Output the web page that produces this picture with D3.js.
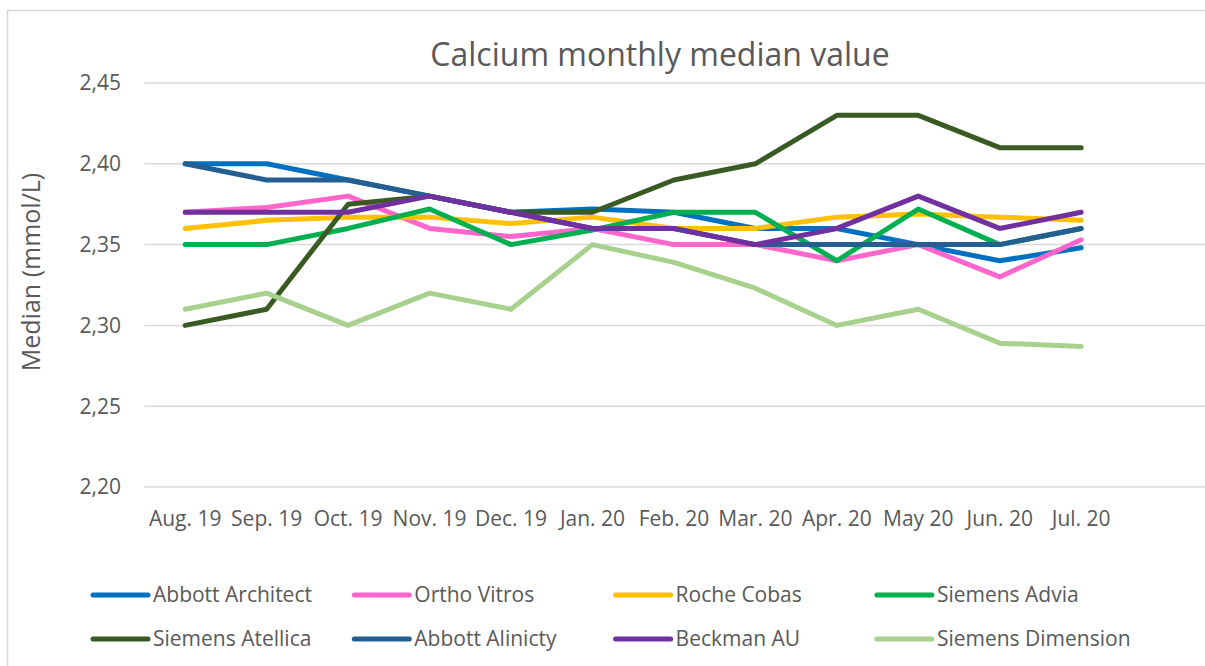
<!DOCTYPE html>
<html>
<head>
<meta charset="utf-8">
<script src="https://cdn.jsdelivr.net/npm/d3@7"></script>
<style>
  body { margin: 0; background: #fff; }
  svg { display: block; font-family: "Open Sans", sans-serif; }
</style>
</head>
<body>
<div id="chart"></div>
<script>
const months = ["Aug. 19", "Sep. 19", "Oct. 19", "Nov. 19", "Dec. 19", "Jan. 20",
  "Feb. 20", "Mar. 20", "Apr. 20", "May 20", "Jun. 20", "Jul. 20"];

const yTicks = [2.20, 2.25, 2.30, 2.35, 2.40, 2.45];

const abbottArchitect = [2.40, 2.40, 2.39, 2.38, 2.37, 2.372, 2.37, 2.36, 2.36, 2.35, 2.34, 2.348];
const orthoVitros = [2.37, 2.373, 2.38, 2.36, 2.355, 2.36, 2.35, 2.35, 2.34, 2.35, 2.33, 2.353];
const rocheCobas = [2.36, 2.365, 2.367, 2.367, 2.363, 2.367, 2.36, 2.36, 2.367, 2.369, 2.367, 2.365];
const siemensAdvia = [2.35, 2.35, 2.36, 2.372, 2.35, 2.359, 2.37, 2.37, 2.34, 2.372, 2.35, 2.36];
const siemensAtellica = [2.30, 2.31, 2.375, 2.38, 2.37, 2.37, 2.39, 2.40, 2.43, 2.43, 2.41, 2.41];
const abbottAlinicty = [2.40, 2.39, 2.39, 2.38, 2.37, 2.36, 2.36, 2.35, 2.35, 2.35, 2.35, 2.36];
const beckmanAU = [2.37, 2.37, 2.37, 2.38, 2.37, 2.36, 2.36, 2.35, 2.36, 2.38, 2.36, 2.37];
const siemensDimension = [2.31, 2.32, 2.30, 2.32, 2.31, 2.35, 2.339, 2.323, 2.30, 2.31, 2.289, 2.287];

const seriesNames = ["Abbott Architect", "Ortho Vitros", "Roche Cobas", "Siemens Advia",
  "Siemens Atellica", "Abbott Alinicty", "Beckman AU", "Siemens Dimension"];
const seriesValues = [abbottArchitect, orthoVitros, rocheCobas, siemensAdvia,
  siemensAtellica, abbottAlinicty, beckmanAU, siemensDimension];
const colors = ["#0070C0", "#FF66CC", "#FFC000", "#00B050",
  "#3A5A24", "#255E91", "#7030A0", "#A9D18E"];

const width = 1205;
const height = 666;
const textColor = "#595959";
const gridColor = "#D9D9D9";

const svg = d3.select("#chart")
  .append("svg")
  .attr("width", width)
  .attr("height", height);

// outer chart border
svg.append("rect")
  .attr("x", 7.5)
  .attr("y", 10.5)
  .attr("width", 1220)
  .attr("height", 680)
  .attr("fill", "none")
  .attr("stroke", gridColor)
  .attr("stroke-width", 1.5);

const plotLeft = 144.5;
const step = 81.45;

const x = d3.scaleBand()
  .domain(months)
  .range([plotLeft, plotLeft + step * months.length]);

const y = d3.scaleLinear()
  .domain([2.20, 2.45])
  .range([487, 83]);

// gridlines
svg.append("g")
  .selectAll("line")
  .data(yTicks)
  .join("line")
  .attr("x1", plotLeft)
  .attr("x2", width)
  .attr("y1", d => y(d))
  .attr("y2", d => y(d))
  .attr("stroke", gridColor)
  .attr("stroke-width", 1.5);

// y tick labels
svg.append("g")
  .selectAll("text")
  .data(yTicks)
  .join("text")
  .attr("x", 121)
  .attr("y", d => y(d))
  .attr("dy", "0.35em")
  .attr("text-anchor", "end")
  .attr("fill", textColor)
  .style("font-size", "21px")
  .text(d => d3.format(".2f")(d).replace(".", ","));

// x tick labels
svg.append("g")
  .selectAll("text")
  .data(months)
  .join("text")
  .attr("x", d => x(d) + x.bandwidth() / 2)
  .attr("y", 519)
  .attr("dy", "0.35em")
  .attr("text-anchor", "middle")
  .attr("fill", textColor)
  .style("font-size", "21px")
  .text(d => d);

// title
svg.append("text")
  .attr("x", 660)
  .attr("y", 55)
  .attr("dy", "0.35em")
  .attr("text-anchor", "middle")
  .attr("fill", textColor)
  .style("font-size", "32px")
  .text("Calcium monthly median value");

// y axis title
svg.append("text")
  .attr("transform", "translate(31, 272) rotate(-90)")
  .attr("dy", "0.35em")
  .attr("text-anchor", "middle")
  .attr("fill", textColor)
  .style("font-size", "25px")
  .text("Median (mmol/L)");

const line = d3.line()
  .x((d, i) => x(months[i]) + x.bandwidth() / 2)
  .y(d => y(d));

svg.append("g")
  .selectAll("path")
  .data(seriesValues)
  .join("path")
  .attr("fill", "none")
  .attr("stroke", (d, i) => colors[i])
  .attr("stroke-width", 5)
  .attr("stroke-linecap", "round")
  .attr("stroke-linejoin", "round")
  .attr("d", line);

// legend, 4 columns x 2 rows
const legend = svg.append("g")
  .selectAll("g")
  .data(seriesNames)
  .join("g")
  .attr("transform", (d, i) => `translate(${93 + (i % 4) * 261.3}, ${i < 4 ? 595 : 639})`);

legend.append("line")
  .attr("x1", 0)
  .attr("x2", 55)
  .attr("stroke", (d, i) => colors[i])
  .attr("stroke-width", 5)
  .attr("stroke-linecap", "round");

legend.append("text")
  .attr("x", 60)
  .attr("dy", "0.35em")
  .attr("fill", textColor)
  .style("font-size", "21px")
  .text(d => d);
</script>
</body>
</html>
